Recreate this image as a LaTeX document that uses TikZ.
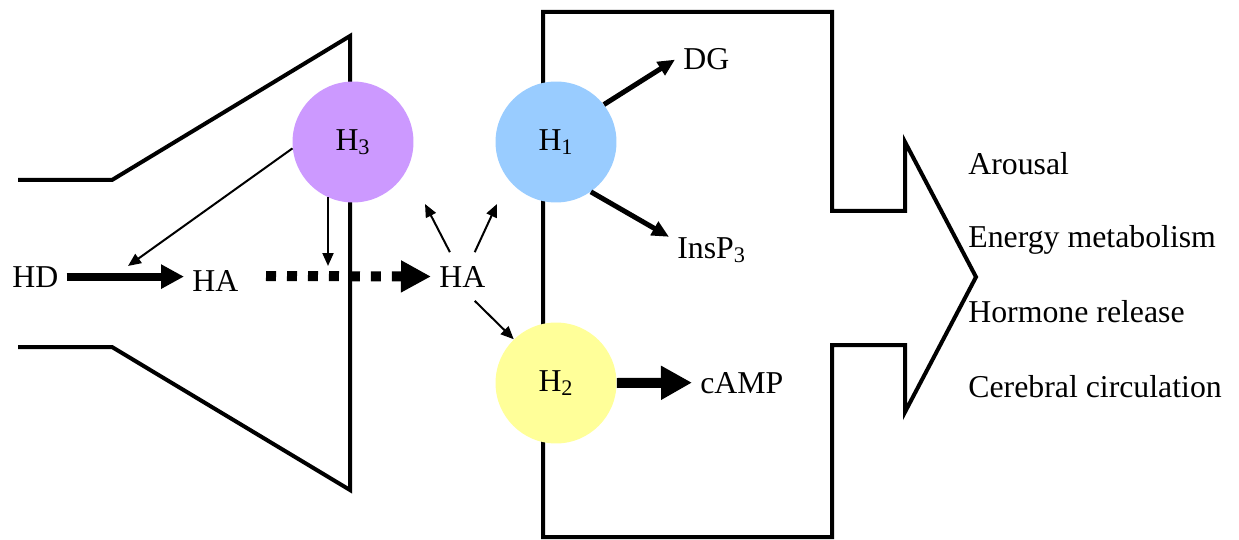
\documentclass[tikz,border=0pt]{standalone}
\usepackage{fontspec}
\setmainfont{Liberation Serif}
\usetikzlibrary{arrows.meta,calc}

\definecolor{hthree}{HTML}{CC99FF}
\definecolor{hone}{HTML}{99CCFF}
\definecolor{htwo}{HTML}{FFFF99}

\begin{document}
\begin{tikzpicture}[x=0.02cm,y=-0.02cm,
  every node/.style={font=\fontsize{18.1}{22}\selectfont},
  lbl/.style={inner xsep=0.16cm, inner ysep=0pt, anchor=base west},
  recep/.style={circle, minimum size=2.42cm, inner sep=0pt},
  wall/.style={line width=0.08cm, line join=miter},
  thinarr/.style={line width=0.04cm, -{Triangle[length=0.26cm,width=0.22cm]}},
  midarr/.style={line width=0.1cm, -{Triangle[length=0.34cm,width=0.3cm]}}]
\useasboundingbox (0,0) rectangle (1239,540);
% presynaptic ending and postsynaptic cell
\draw[wall] (18,180) -- (112,180) -- (350,36) -- (350,490) -- (112,347) -- (18,347);
\draw[wall] (832,345) -- (905,345) -- (905,412) -- (976,277) -- (905,142) -- (905,211) -- (832,211)
  -- (832,12) -- (543,12) -- (543,537) -- (832,537) -- cycle;
% receptors
\node[recep, fill=hthree] (h3) at (353,142) {H\textsubscript{3}};
\node[recep, fill=hone] (h1) at (556,142) {H\textsubscript{1}};
\node[recep, fill=htwo] (h2) at (556,383) {H\textsubscript{2}};
% labels
\node[lbl] (hd) at (4,287) {HD};
\node[lbl] (haL) at (184,292) {HA};
\node[lbl, inner ysep=0.27cm] (haR) at (431,287) {HA};
\node[lbl] (dg) at (675,70) {DG};
\node[lbl] (insp) at (669,258) {InsP\textsubscript{3}};
\node[lbl] (camp) at (692,393) {cAMP};
\node[anchor=base west, inner sep=0pt] at (968,175) {Arousal};
\node[anchor=base west, inner sep=0pt] at (968,248) {Energy metabolism};
\node[anchor=base west, inner sep=0pt] at (968,322) {Hormone release};
\node[anchor=base west, inner sep=0pt] at (968,397) {Cerebral circulation};
% free ends
\coordinate (syn) at (128,266);
\coordinate (rel) at (328,266);
\coordinate (dotstart) at (266,276);
\coordinate (upL) at (425,204);
\coordinate (upR) at (497,204);
% connectors
\draw[line width=0.16cm, -{Triangle[length=0.46cm,width=0.46cm]}] (hd.east) -- (hd.east -| haL.west);
\draw[line width=0.2cm, dash pattern=on 0.2cm off 0.22cm, -{Triangle[length=0.6cm,width=0.6cm]}] (dotstart) -- (haR.west);
\draw[thinarr] (h3.186) -- (syn);
\draw[thinarr] (h3.245 -| rel) -- (rel);
\draw[thinarr] (haR.117) -- (upL);
\draw[thinarr] (haR.63) -- (upR);
\draw[thinarr] (haR.-63) -- (h2.134);
\draw[midarr] (h1.38) -- (dg.west);
\draw[midarr] (h1.-55) -- (insp.north west);
\draw[line width=0.2cm, -{Triangle[length=0.62cm,width=0.64cm]}] (h2.east) -- (camp.west);
\end{tikzpicture}
\end{document}
